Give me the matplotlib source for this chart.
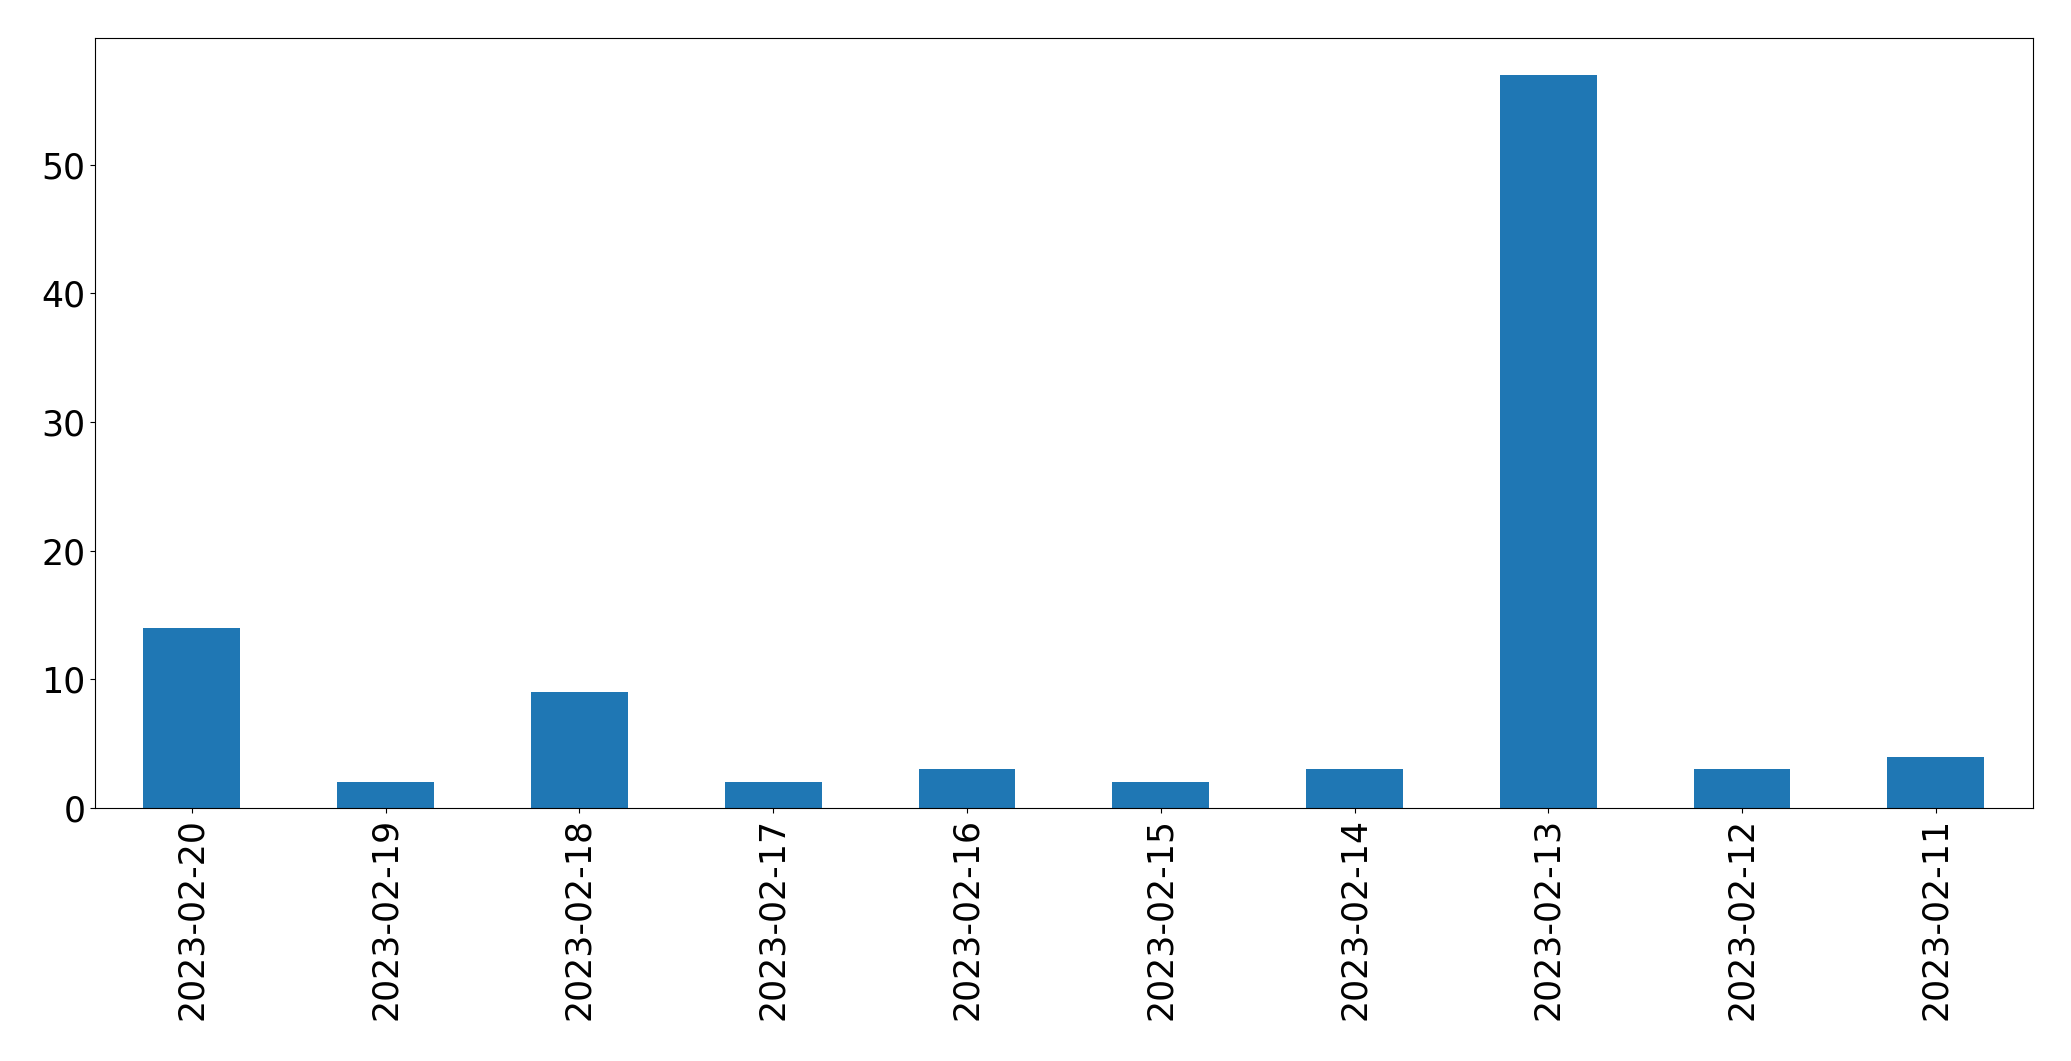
import matplotlib
matplotlib.use("Agg")
import matplotlib.pyplot as plt
import numpy as np

# daily counts, newest first (as in the reference)
dates = ["2023-02-20", "2023-02-19", "2023-02-18", "2023-02-17", "2023-02-16",
         "2023-02-15", "2023-02-14", "2023-02-13", "2023-02-12", "2023-02-11"]
counts = [14, 2, 9, 2, 3, 2, 3, 57, 3, 4]

fig = plt.figure(figsize=(20.71, 10.61), dpi=100)
ax = fig.add_axes([0.0459, 0.2385, 0.9356, 0.7255])

x = np.arange(len(dates))
ax.bar(x, counts, width=0.5, color="#1f77b4")
ax.set_xticks(x)
ax.set_xticklabels(dates, rotation=90, fontsize=25)
ax.tick_params(axis="y", labelsize=25)
ax.set_xlim(-0.5, len(dates) - 0.5)
ax.set_ylim(0, max(counts) * 1.05)

fig.savefig("out.png", dpi=100)
